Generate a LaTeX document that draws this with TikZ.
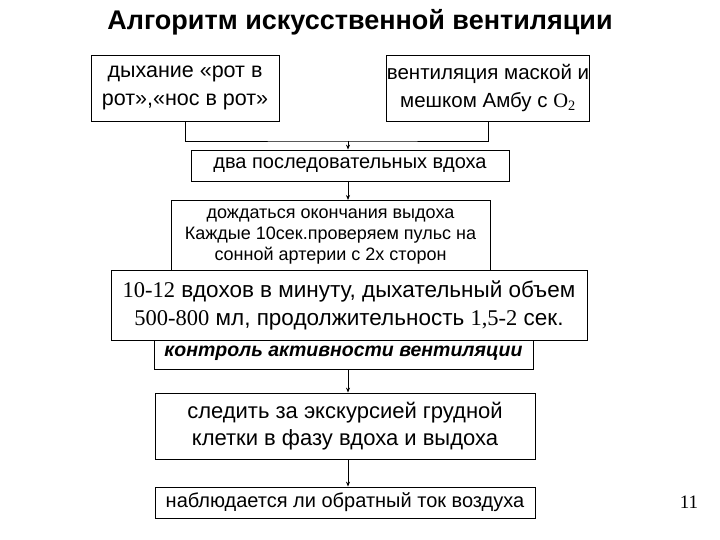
\documentclass[tikz,border=0pt]{standalone}
\usepackage{fontspec}
\setmainfont{Liberation Sans}
\newfontfamily\tms{Liberation Serif}
\usetikzlibrary{arrows.meta}
\begin{document}
\begin{tikzpicture}[x=1pt,y=-1pt,
  bx/.style={draw,fill=white,line width=0.8pt,inner sep=0pt,align=center},
  ar/.style={-{Stealth[length=5pt,width=4pt]},line width=0.8pt}]
\useasboundingbox (0,0) rectangle (720,540);
\node[font=\bfseries\fontsize{27}{30}\selectfont] (title) at (360,22) {Алгоритм искусственной вентиляции};
\node[bx,minimum width=188,minimum height=66,font=\fontsize{21.5}{28}\selectfont] (b1) at (185,88) {дыхание «рот в\\рот»,«нос в рот»};
\node[bx,minimum width=198,minimum height=66,font=\fontsize{20.5}{28}\selectfont] (b2) at (488,88) {вентиляция маской и\\мешком Амбу с {\tms O\textsubscript{2}}};
\node[bx,minimum width=318,minimum height=31,font=\fontsize{20}{24}\selectfont] (b3) at (350,165.5) {два последовательных вдоха};
\node[bx,minimum width=319,minimum height=72,font=\fontsize{18}{21}\selectfont,anchor=north] (b4) at (330.5,200) {дождаться окончания выдоха\\Каждые 10сек.проверяем пульс на\\сонной артерии с 2х сторон};
\node[bx,minimum width=379,minimum height=31,font=\bfseries\itshape\fontsize{19.5}{24}\selectfont] (b6) at (343.5,353.5) {контроль активности вентиляции};
\node[bx,minimum width=476,minimum height=70,font=\fontsize{22.5}{28}\selectfont] (b5) at (349,305) {{\tms 10-12} вдохов в минуту, дыхательный объем\\{\tms 500-800} мл, продолжительность {\tms 1,5-2} сек.};
\node[bx,minimum width=380,minimum height=66,font=\fontsize{22}{27}\selectfont] (b7) at (345,426) {следить за экскурсией грудной\\клетки в фазу вдоха и выдоха};
\node[bx,minimum width=380,minimum height=31,font=\fontsize{20}{24}\selectfont] (b8) at (345,502.5) {наблюдается ли обратный ток воздуха};
\node[font=\tms\fontsize{19}{22}\selectfont] (pg) at (689,502) {11};
\coordinate (j) at (348,141);
\draw[line width=0.8pt] (b1.south) |- (j) -| (b2.south);
\draw[ar] (j) -- (j|-b3.north);
\draw[ar] (348,181) -- (348,200);
\draw[ar] (348,369) -- (b7.north-|348,0);
\draw[ar] (348,459) -- (b8.north-|348,0);
\end{tikzpicture}
\end{document}
